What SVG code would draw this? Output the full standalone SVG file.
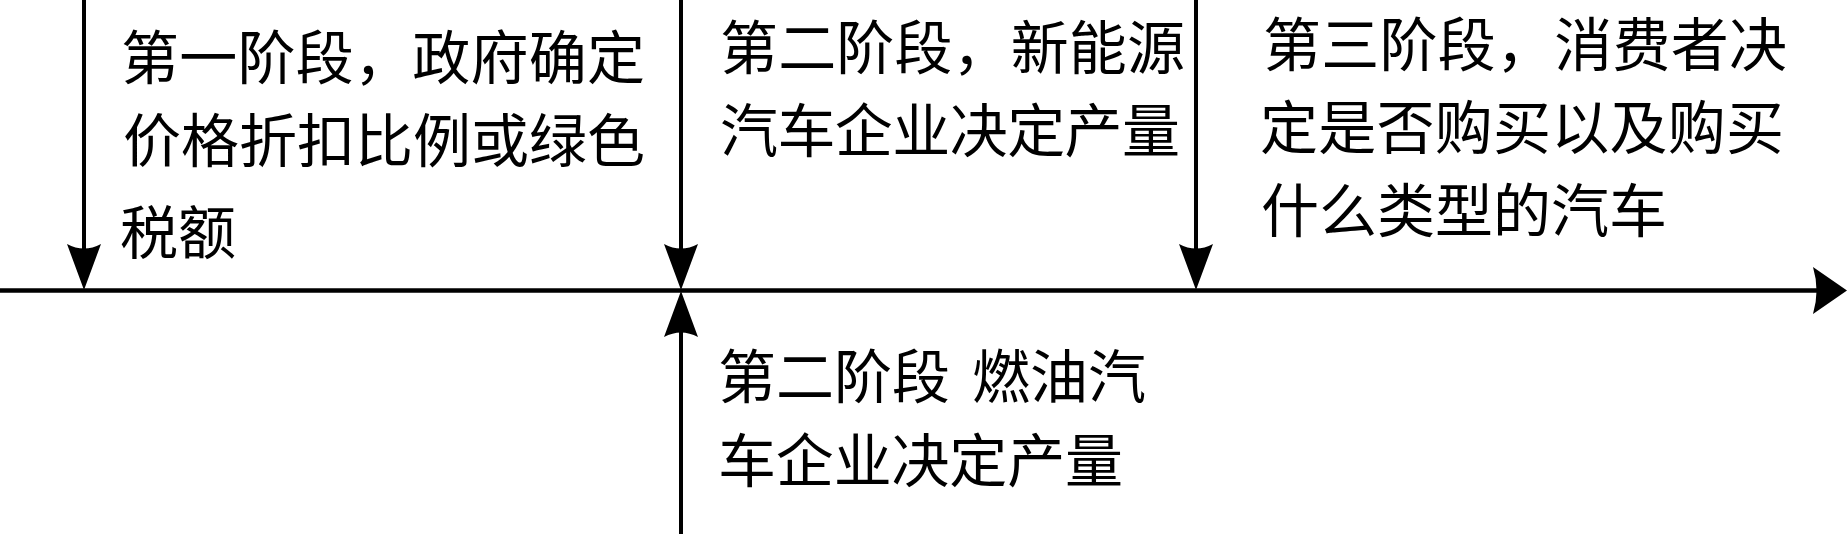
<svg xmlns="http://www.w3.org/2000/svg" width="1848" height="534" viewBox="0 0 1848 534">
  <style>
    .lbl { font-family: "Liberation Serif", "Noto Sans CJK SC", serif; font-size: 58px; fill: #000; }
    .ln { stroke: #000; stroke-width: 4; fill: none; }
    .axis { stroke: #000; stroke-width: 4.5; fill: none; }
  </style>
  <defs>
    <marker id="arrV" markerUnits="userSpaceOnUse" viewBox="0 0 46 34" markerWidth="46" markerHeight="34" refX="16" refY="17" orient="auto">
      <path d="M0,0 L46,17 L0,34 Q9,17 0,0 Z" fill="#000"/>
    </marker>
    <marker id="arrH" markerUnits="userSpaceOnUse" viewBox="0 0 34 47" markerWidth="34" markerHeight="47" refX="7" refY="23.5" orient="auto">
      <path d="M0,0 L34,23.5 L0,47 Q7,23.5 0,0 Z" fill="#000"/>
    </marker>
  </defs>
  <rect width="1848" height="534" fill="#fff"/>
  <g id="connectors">
    <line class="axis" x1="0" y1="290.5" x2="1820" y2="290.5" marker-end="url(#arrH)"/>
    <line class="ln" x1="84" y1="0" x2="84" y2="260" marker-end="url(#arrV)"/>
    <line class="ln" x1="681" y1="0" x2="681" y2="260" marker-end="url(#arrV)"/>
    <line class="ln" x1="1196" y1="0" x2="1196" y2="260" marker-end="url(#arrV)"/>
    <line class="ln" x1="681" y1="534" x2="681" y2="321" marker-end="url(#arrV)"/>
  </g>
  <g id="stage1">
    <text class="lbl" x="121" y="79" textLength="524" lengthAdjust="spacing">第一阶段，政府确定</text>
    <text class="lbl" x="123" y="162" textLength="522" lengthAdjust="spacing">价格折扣比例或绿色</text>
    <text class="lbl" x="120" y="254">税额</text>
  </g>
  <g id="stage2-nev">
    <text class="lbl" x="720" y="69" textLength="465" lengthAdjust="spacing">第二阶段，新能源</text>
    <text class="lbl" x="720" y="152" textLength="460" lengthAdjust="spacing">汽车企业决定产量</text>
  </g>
  <g id="stage3">
    <text class="lbl" x="1263" y="66" textLength="524" lengthAdjust="spacing">第三阶段，消费者决</text>
    <text class="lbl" x="1260" y="149" textLength="524" lengthAdjust="spacing">定是否购买以及购买</text>
    <text class="lbl" x="1261" y="232" textLength="406" lengthAdjust="spacing">什么类型的汽车</text>
  </g>
  <g id="stage2-fuel">
    <text class="lbl" y="398"><tspan x="718">第二阶段 </tspan><tspan x="972">燃油汽</tspan></text>
    <text class="lbl" x="718" y="482" textLength="405" lengthAdjust="spacing">车企业决定产量</text>
  </g>
</svg>
